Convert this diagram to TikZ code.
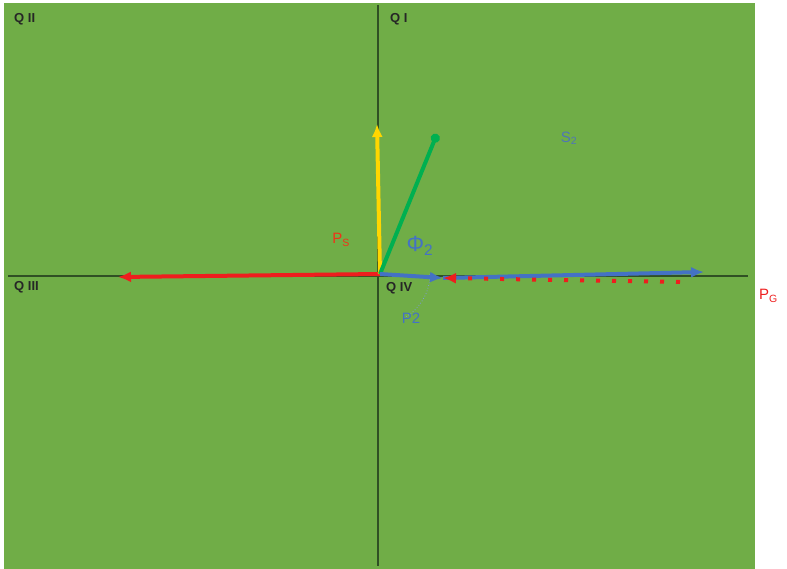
\documentclass[tikz,border=0pt]{standalone}
\usepackage{fontspec}
\setmainfont{Liberation Sans}
\usetikzlibrary{arrows.meta,positioning}
\definecolor{bggreen}{RGB}{112,173,71}
\definecolor{axisgreen}{RGB}{48,80,36}
\definecolor{vblue}{RGB}{68,114,196}
\definecolor{vred}{RGB}{238,30,30}
\definecolor{vyellow}{RGB}{255,214,0}
\definecolor{vgreen}{RGB}{0,176,80}
\tikzset{
  quad/.style  = {font=\bfseries\fontsize{13}{14}\selectfont, text=black!85, inner sep=0pt},
  lab/.style   = {font=\fontsize{15}{16}\selectfont, inner sep=0pt},
  axis/.style  = {draw=axisgreen, line width=1.5pt},
  vec/.style   = {-{Latex[length=13pt,width=11pt]}, line width=4pt},
}

\begin{document}
\begin{tikzpicture}[x=1pt, y=-1pt]
  \useasboundingbox (0,0) rectangle (787,569);
  \fill[bggreen] (4,3) rectangle (755,569);

  % axes
  \coordinate (o) at (380,274);
  \coordinate (xl) at (8,276);
  \coordinate (xr) at (748,276);
  \coordinate (yt) at (378,5);
  \coordinate (yb) at (378,566);
  \draw[axis] (xl) -- (xr);
  \draw[axis] (yt) -- (yb);

  % quadrant labels
  \node[quad, anchor=west] (q2) at (14,19) {Q II};
  \node[quad, anchor=west] (q1) at (390,19) {Q I};
  \node[quad, anchor=west] (q3) at (14,287) {Q III};
  \node[quad, anchor=west] (q4) at (386,288) {Q IV};

  % vector tips
  \coordinate (ty) at (377,124);
  \coordinate (tg) at (437,134);
  \coordinate (tr) at (118,277);
  \coordinate (tb) at (443,278);
  \coordinate (tbl) at (704,272);
  \coordinate (tdr) at (680,282);

  % angle mark
  \draw[vblue!70, dotted, line width=0.8pt] (430,274) arc[start angle=0, end angle=62, radius=50];

  \draw[vec, vred] (o) -- (tr);
  \draw[vec, vyellow] (o) -- (ty);
  \draw[line width=4pt, vgreen, -{Circle[length=9pt]}] (o) -- (tg);
  \draw[vec, vblue] (tb) -- (tbl);
  \draw[vred, line width=4pt, dash pattern=on 4pt off 12pt, -{Latex[length=13pt,width=11pt]}] (tdr) -- (tb);
  \draw[vec, vblue] (o) -- (tb);

  % labels
  \node[lab, text=vred!80!orange] (ps) at (341,240) {P\textsubscript{S}};
  \node[lab, text=vblue, font=\fontsize{22}{24}\selectfont] (phi) at (420,246) {Φ\textsubscript{2}};
  \node[lab, text=vblue!80!gray] (s2) at (569,138) {S\textsubscript{2}};
  \node[lab, text=vblue] (p2) at (411,318) {P2};
  \node[lab, text=vred, anchor=west] (pg) at (759,296) {P\textsubscript{G}};
\end{tikzpicture}
\end{document}
